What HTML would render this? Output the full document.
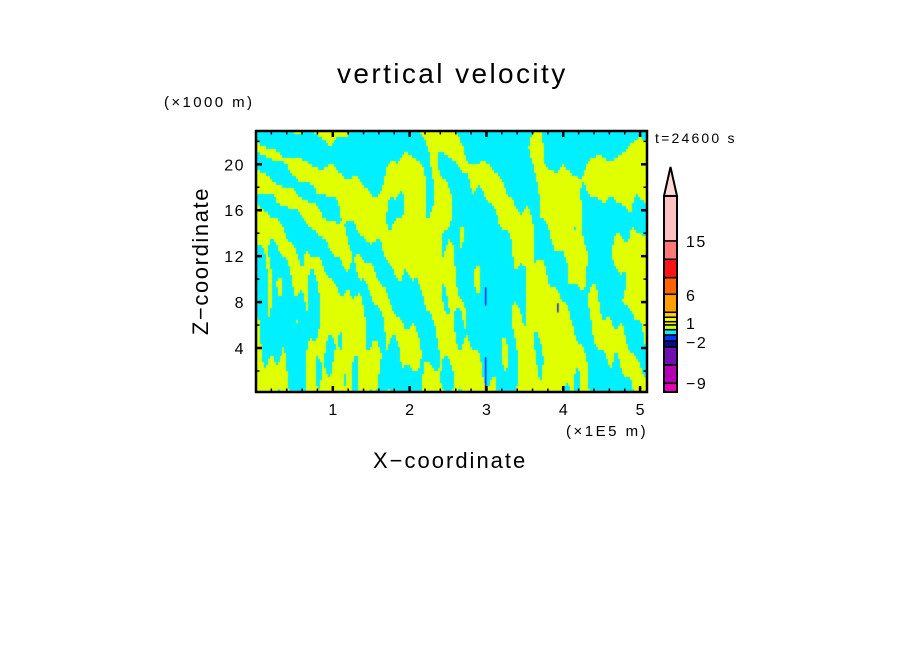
<!DOCTYPE html>
<html><head><meta charset="utf-8">
<style>
html,body{margin:0;padding:0;background:#fff;}
body{width:904px;height:654px;position:relative;overflow:hidden;font-family:"Liberation Sans",sans-serif;}
.t{position:absolute;white-space:nowrap;color:#000;line-height:1;}
</style></head>
<body>
<div class="t" style="left:337px;top:60px;font-size:28px;letter-spacing:2.4px;">vertical velocity</div>
<div class="t" style="left:164px;top:95px;font-size:15px;letter-spacing:2.4px;">(×1000 m)</div>
<div class="t" style="left:655px;top:131px;font-size:14px;letter-spacing:2.2px;">t=24600 s</div>
<div class="t" style="left:566px;top:424px;font-size:15px;letter-spacing:2.5px;">(×1E5 m)</div>
<div class="t" style="left:373px;top:450px;font-size:22px;letter-spacing:2px;">X−coordinate</div>
<div class="t" style="left:201px;top:261px;font-size:22px;letter-spacing:1.6px;transform:translate(-50%,-50%) rotate(-90deg);">Z−coordinate</div>
<svg id="svg" width="904" height="654" style="position:absolute;left:0;top:0">
<foreignObject x="256" y="131" width="391" height="261"><canvas id="cv" width="391" height="261" xmlns="http://www.w3.org/1999/xhtml"></canvas></foreignObject>
<g id="axes"></g>
<g id="cbar"></g>
</svg>
<script>
const xTicks=[1,2,3,4,5];
const yTicks=[4,8,12,16,20];
const cbColors=['#ffc0c0','#ff7878','#ff1414','#ff6400','#ffa000','#ffd200','#ffff00','#e6f500','#d2ff00','#00f0ff','#0038ff','#00108c','#7010b0','#b400b4','#e600b4'];
const cbBounds=[195.7,241,259.3,277.7,294.3,312.3,317.3,321.7,325,329.7,335,341,347,365,383.3,391.7];
const cbLabels=['15','6','1','−2','−9'];
const cbLabelY=[241,295,323,342,383];
const xmin=0,xmax=5.09,zmin=0.17,zmax=22.9;
const L=256,R=647,T=131,B=392;
const sx=v=>L+(v-xmin)/(xmax-xmin)*(R-L);
const sy=v=>B-(v-zmin)/(zmax-zmin)*(B-T);
const NS='http://www.w3.org/2000/svg';
function mk(tag,attrs,parent){const e=document.createElementNS(NS,tag);for(const k in attrs)e.setAttribute(k,attrs[k]);parent.appendChild(e);return e;}
const cv=document.getElementById('cv');const ctx=cv.getContext('2d');
ctx.fillStyle='#00f0ff';ctx.fillRect(0,0,391,261);
ctx.fillStyle='#e0ff00';
for(let i=0;i<196;i++){for(let j=0;j<87;j++){
 const x=xmin+(i*2+1)/391*(xmax-xmin), z=zmax-(j*3+1.5)/261*(zmax-zmin);
 const h=z/23;
 const ph=x*(4+2*h)-(x-2.7)*h*h*5+Math.sin(x*2.3+z*0.3)*1.2;
 let v=0.8*Math.sin(ph*1.7)
  +0.55*Math.sin(x*3.7+z*0.45)*Math.cos(z*0.31-x*1.3)
  +0.6*Math.sin(x*17+Math.sin(z*0.5+x)*2.5)*(1-h*0.7)
  +0.45*Math.sin(x*37+z*0.2)*(1-h)
  +0.4*Math.sin(z*0.7+x*2.2)*Math.sin(x*7.3-z*0.15);
 if(v>0.0){ctx.fillRect(i*2,j*3,2,3);}
}}
ctx.fillStyle='#1020ff';ctx.fillRect(sx(2.98)-L,sy(3.2)-T,1.5,sy(0.3)-sy(3.2));ctx.fillRect(sx(2.98)-L,sy(9.3)-T,1.5,sy(7.7)-sy(9.3));ctx.fillRect(sx(3.92)-L,sy(7.9)-T,1.5,sy(7.1)-sy(7.9));
const ax=document.getElementById('axes');
const fr=mk('rect',{x:L,y:T,width:R-L,height:B-T,fill:'none',stroke:'#000','stroke-width':2.5},ax);


for(let v=0.2;v<5.09;v+=0.2){const x=sx(v);const maj=Math.abs(v-Math.round(v))<0.01;const l=maj?6:3.5;
 mk('line',{x1:x,x2:x,y1:B,y2:B-l,stroke:'#000','stroke-width':maj?2.5:1.5},ax);mk('line',{x1:x,x2:x,y1:T,y2:T+l,stroke:'#000','stroke-width':maj?2.5:1.5},ax);}
for(let v=2;v<23;v+=2){const y=sy(v);const maj=v%4===0;const l=maj?6:3.5;
 mk('line',{x1:L,x2:L+l,y1:y,y2:y,stroke:'#000','stroke-width':maj?2.5:1.5},ax);mk('line',{x1:R,x2:R-l,y1:y,y2:y,stroke:'#000','stroke-width':maj?2.5:1.5},ax);}
xTicks.forEach(v=>{const t=mk('text',{x:sx(v),y:415,'text-anchor':'middle','font-size':16,'font-family':'Liberation Sans, sans-serif'},ax);t.textContent=v;

});
yTicks.forEach(v=>{const t=mk('text',{x:245,y:sy(v)+6,'text-anchor':'end','font-size':16,'font-family':'Liberation Sans, sans-serif','letter-spacing':1.5},ax);t.textContent=v;

});
const cb=document.getElementById('cbar');
const tri=mk('polygon',{points:'664,196 677,196 670.5,167',fill:'#ffd8d8',stroke:'#000','stroke-width':2},cb);


for(let k=0;k<cbColors.length;k++){const r=mk('rect',{x:664,y:cbBounds[k],width:13,height:cbBounds[k+1]-cbBounds[k],fill:cbColors[k],stroke:'#000','stroke-width':1.5},cb);

}
mk('rect',{x:664,y:196,width:13,height:196,fill:'none',stroke:'#000','stroke-width':2},cb);
cbLabels.forEach((s,k)=>{const t=mk('text',{x:686,y:cbLabelY[k]+6,'font-size':16,'font-family':'Liberation Sans, sans-serif','letter-spacing':1.5},cb);t.textContent=s;

});
</script>
</body></html>
